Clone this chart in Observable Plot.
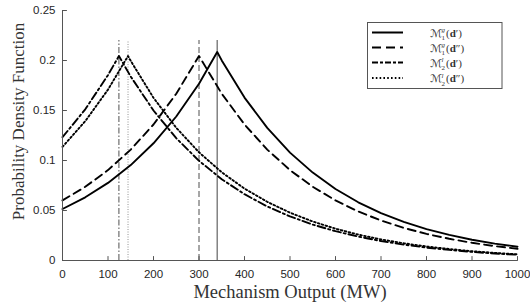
<!DOCTYPE html>
<html>
<head>
<meta charset="utf-8">
<script src="https://cdn.jsdelivr.net/npm/d3@7"></script>
<script src="https://cdn.jsdelivr.net/npm/@observablehq/plot@0.6"></script>
<style>
  html, body { margin: 0; padding: 0; background: #fff; }
  #wrap { position: relative; width: 530px; height: 307px; }
  #wrap > svg { position: absolute; left: 0; top: 0; }
</style>
</head>
<body>
<div id="wrap"></div>
<script>
// ---- data ----
const xTicks = [0, 100, 200, 300, 400, 500, 600, 700, 800, 900, 1000];
const yTicks = [0, 0.05, 0.1, 0.15, 0.2, 0.25];
const yTickLabels = ["0", "0.05", "0.1", "0.15", "0.2", "0.25"];

const seriesNames = ["M1g(d')", "M1g(d'')", "M2l(d')", "M2l(d'')"];

// solid: M1g(d')
const xSolid = [0, 50, 100, 150, 200, 250, 300, 340, 350, 400, 450, 500, 550, 600, 650, 700, 750, 800, 850, 900, 950, 1000];
const ySolid = [0.0515, 0.0632, 0.0776, 0.0954, 0.1172, 0.1440, 0.1768, 0.2085, 0.2001, 0.1629, 0.1326, 0.1079, 0.0879, 0.0715, 0.0582, 0.0474, 0.0386, 0.0314, 0.0256, 0.0208, 0.0169, 0.0138];

// dashed: M1g(d'')
const xDashed = [0, 50, 100, 150, 200, 250, 300, 350, 400, 450, 500, 550, 600, 650, 700, 750, 800, 850, 900, 950, 1000];
const yDashed = [0.0601, 0.0737, 0.0904, 0.1109, 0.1360, 0.1668, 0.2045, 0.1668, 0.1360, 0.1109, 0.0904, 0.0737, 0.0601, 0.0490, 0.0400, 0.0326, 0.0266, 0.0217, 0.0177, 0.0144, 0.0117];

// dash-dot: M2l(d')
const xDashDot = [0, 50, 100, 124, 150, 200, 250, 300, 350, 400, 450, 500, 550, 600, 650, 700, 750, 800, 850, 900, 950, 1000];
const yDashDot = [0.1233, 0.1512, 0.1854, 0.2045, 0.1839, 0.1500, 0.1223, 0.0997, 0.0813, 0.0663, 0.0540, 0.0441, 0.0359, 0.0293, 0.0239, 0.0195, 0.0159, 0.0129, 0.0106, 0.0086, 0.0070, 0.0057];

// dotted: M2l(d'')
const xDotted = [0, 50, 100, 144, 150, 200, 250, 300, 350, 400, 450, 500, 550, 600, 650, 700, 750, 800, 850, 900, 950, 1000];
const yDotted = [0.1136, 0.1393, 0.1709, 0.2045, 0.1996, 0.1627, 0.1327, 0.1082, 0.0882, 0.0719, 0.0587, 0.0478, 0.0390, 0.0318, 0.0259, 0.0211, 0.0172, 0.0140, 0.0115, 0.0093, 0.0076, 0.0062];

// vertical marker lines (location of each mode) and their top
const peakX = [340, 300, 124, 144];
const peakTop = 0.22;

const xLabel = "Mechanism Output (MW)";
const yLabel = "Probability Density Function";

// ---- build ----
const toRows = (xs, ys) => xs.map((x, i) => ({x, y: ys[i]}));
const styles = [
  {dash: null, vstroke: "#6e6e6e", vdash: null, vw: 1.3},
  {dash: "8,5", vstroke: "#222", vdash: "6,3", vw: 0.8},
  {dash: "8,3,2,3", vstroke: "#222", vdash: "6,2,1.5,2", vw: 0.8},
  {dash: "1.6,2.4", vstroke: "#777", vdash: "1,1.5", vw: 0.8}
];
const allSeries = [toRows(xSolid, ySolid), toRows(xDashed, yDashed), toRows(xDashDot, yDashDot), toRows(xDotted, yDotted)];

const axisColor = "#555";
const tickShape = {draw(context, l) { context.moveTo(0, 0); context.lineTo(0, -l); }};
const marks = [];
// vertical markers
peakX.forEach((px, i) => {
  marks.push(Plot.ruleX([px], {y1: 0, y2: peakTop, stroke: styles[i].vstroke, strokeWidth: styles[i].vw, strokeDasharray: styles[i].vdash}));
});
// curves
allSeries.forEach((rows, i) => {
  marks.push(Plot.line(rows, {x: "x", y: "y", stroke: "#000", strokeWidth: 1.9, strokeDasharray: styles[i].dash}));
});
// axis lines
marks.push(Plot.ruleX([0], {y1: 0, y2: 0.25, stroke: axisColor, strokeWidth: 1}));
marks.push(Plot.ruleY([0], {x1: 0, x2: 1000, stroke: axisColor, strokeWidth: 1}));
// inward ticks
marks.push(Plot.vector(xTicks, {x: d => d, y: 0, length: 4, rotate: 0, anchor: "start", stroke: axisColor, strokeWidth: 1, shape: tickShape}));
marks.push(Plot.vector(yTicks, {x: 0, y: d => d, length: 4, rotate: 90, anchor: "start", stroke: axisColor, strokeWidth: 1, shape: tickShape}));
// tick labels
marks.push(Plot.axisX(xTicks, {tickSize: 0, tickPadding: 9, label: null, tickFormat: d => String(d), fontSize: 11.5, fontFamily: "Liberation Sans", fill: "#262626"}));
marks.push(Plot.axisY(yTicks, {tickSize: 0, tickPadding: 7, label: null, tickFormat: (d, i) => yTickLabels[i], fontSize: 11.5, fontFamily: "Liberation Sans", fill: "#262626"}));
// axis titles
marks.push(Plot.text([xLabel], {text: d => d, frameAnchor: "bottom", textAnchor: "middle", lineAnchor: "middle", dy: 32, fontSize: 18.5, fontFamily: "Liberation Serif", fill: "#333"}));
marks.push(Plot.text([yLabel], {text: d => d, frameAnchor: "left", textAnchor: "middle", lineAnchor: "middle", dx: -44, dy: -14, rotate: -90, fontSize: 17, fontFamily: "Liberation Serif", fill: "#333"}));

const chart = Plot.plot({
  width: 530,
  height: 307,
  marginLeft: 62,
  marginRight: 13,
  marginTop: 10,
  marginBottom: 47,
  x: {domain: [0, 1000], axis: null},
  y: {domain: [0, 0.25], axis: null},
  style: {background: "#fff", overflow: "visible"},
  marks
});
document.getElementById("wrap").appendChild(chart);

// ---- legend (overlay) ----
const ns = "http://www.w3.org/2000/svg";
const leg = document.createElementNS(ns, "svg");
leg.setAttribute("width", 530);
leg.setAttribute("height", 307);
document.getElementById("wrap").appendChild(leg);
const mk = (tag, attrs) => { const e = document.createElementNS(ns, tag); for (const k in attrs) e.setAttribute(k, attrs[k]); leg.appendChild(e); return e; };
mk("rect", {x: 367.5, y: 22.5, width: 134.5, height: 66, fill: "#fff", stroke: "#555", "stroke-width": 1});
const rowY = [32.5, 47.5, 62.5, 78];
const sup = ["g", "g", "l", "l"];
const sub = ["1", "1", "2", "2"];
const primes = ["\u2032", "\u2033", "\u2032", "\u2033"];
const legDash = [null, "9,5", "6,2,3,2", "1.6,2.2"];
rowY.forEach((ry, i) => {
  const a = {x1: 372, x2: 403, y1: ry, y2: ry, stroke: "#000", "stroke-width": 2};
  if (legDash[i]) a["stroke-dasharray"] = legDash[i];
  mk("line", a);
  const m = mk("text", {x: 430, y: ry + 4, "font-family": "DejaVu Sans", "font-size": 11, "font-style": "italic", fill: "#333"});
  m.textContent = "\u2133";
  mk("text", {x: 441.5, y: ry - 0.5, "font-family": "Liberation Serif", "font-size": 7, "font-style": "italic", fill: "#333"}).textContent = sup[i];
  mk("text", {x: 441.5, y: ry + 7.5, "font-family": "Liberation Serif", "font-size": 7, fill: "#333"}).textContent = sub[i];
  const t = mk("text", {x: 446, y: ry + 4, "font-family": "Liberation Serif", "font-size": 11, fill: "#333"});
  t.innerHTML = `(<tspan font-weight="bold">d</tspan>${primes[i]})`;
});
</script>
</body>
</html>
